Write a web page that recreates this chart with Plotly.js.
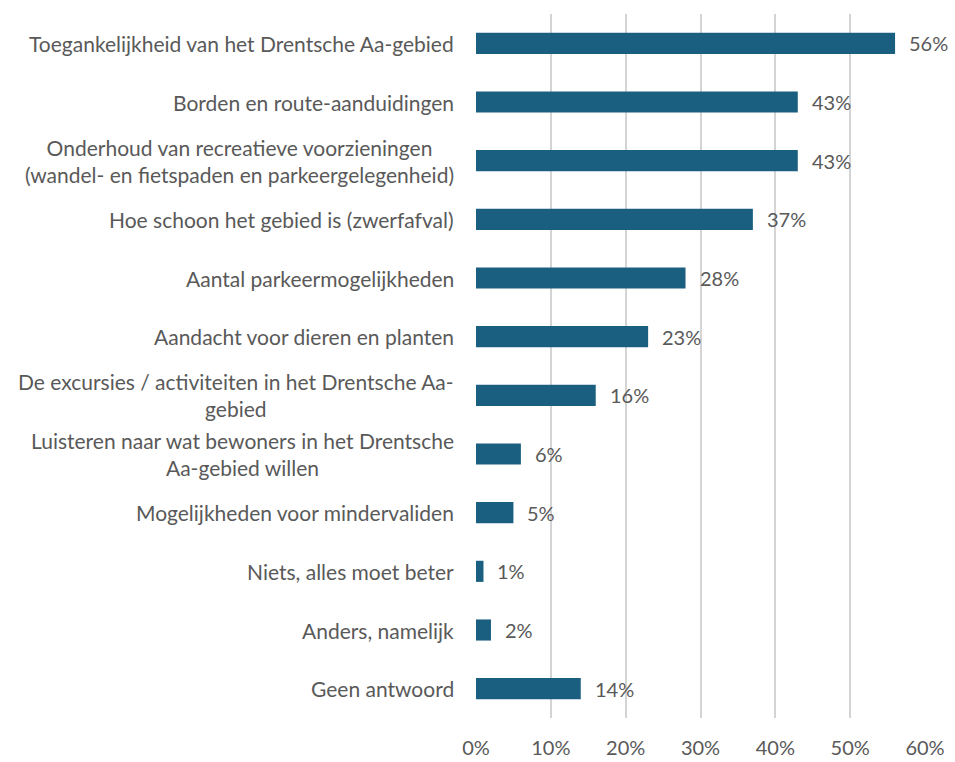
<!DOCTYPE html>
<html><head><meta charset="utf-8">
<script src="https://cdn.plot.ly/plotly-3.0.1.min.js"></script>
<style>body{margin:0;background:#fff}#c{width:955px;height:762px}</style>
</head><body><div id="c"></div>
<script>
const categories = [
  "Toegankelijkheid van het Drentsche Aa-gebied",
  "Borden en route-aanduidingen",
  "Onderhoud van recreatieve voorzieningen<br>(wandel- en fietspaden en parkeergelegenheid)",
  "Hoe schoon het gebied is (zwerfafval)",
  "Aantal parkeermogelijkheden",
  "Aandacht voor dieren en planten",
  "De excursies / activiteiten in het Drentsche Aa-<br>gebied",
  "Luisteren naar wat bewoners in het Drentsche<br>Aa-gebied willen",
  "Mogelijkheden voor mindervaliden",
  "Niets, alles moet beter",
  "Anders, namelijk",
  "Geen antwoord"
];
const values = [56, 43, 43, 37, 28, 23, 16, 6, 5, 1, 2, 14];
const tickVals = [0, 10, 20, 30, 40, 50, 60];
const tickText = ["0%", "10%", "20%", "30%", "40%", "50%", "60%"];

const font = "Lato, 'Open Sans', sans-serif";
const txtColor = "#595959";
const fs = 21;

const annotations = [];
categories.forEach((c, i) => {
  annotations.push({
    xref: "paper", yref: "y", x: 0, y: c, xanchor: "right", yanchor: "middle",
    xshift: -20, text: c, align: "center", showarrow: false,
    font: {family: font, size: fs, color: txtColor}
  });
  annotations.push({
    xref: "x", yref: "y", x: values[i], y: c, xanchor: "left", yanchor: "middle",
    xshift: 12, text: values[i] + "%", showarrow: false,
    font: {family: font, size: fs - 1, color: txtColor}
  });
});

Plotly.newPlot("c", [{
  type: "bar", orientation: "h", x: values, y: categories,
  marker: {color: "#1a5f80", line: {width: 0}}, hoverinfo: "skip"
}], {
  width: 955, height: 762,
  margin: {l: 476, r: 30, t: 14, b: 44},
  paper_bgcolor: "#fff", plot_bgcolor: "#fff",
  bargap: 0.64, showlegend: false,
  xaxis: {
    range: [0, 60], tickvals: tickVals, ticktext: tickText,
    showgrid: true, gridcolor: "#d4d4d4", gridwidth: 2,
    zeroline: false, showline: false,
    ticks: "outside", ticklen: 12, tickcolor: "rgba(0,0,0,0)",
    tickfont: {family: font, size: fs - 1, color: txtColor}, fixedrange: true
  },
  yaxis: {
    type: "category", autorange: "reversed", showticklabels: false,
    showgrid: false, zeroline: false, showline: false, ticks: ""
  },
  annotations: annotations
}, {displayModeBar: false, staticPlot: true});
</script></body></html>
